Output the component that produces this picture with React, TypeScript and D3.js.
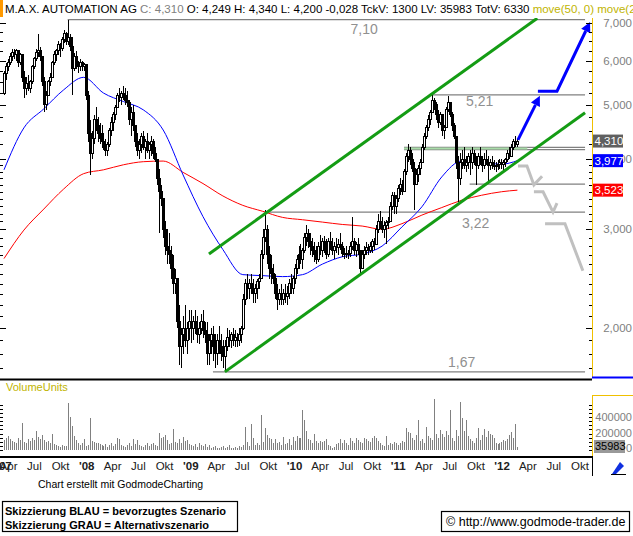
import * as d3 from 'd3'

type Bar = [number, number, number] // high, low, close (open = previous close)
type Pt = [number, number] // week index, price

const chartStart = new Date(2007, 2, 16)
const weekMs = 7 * 24 * 60 * 60 * 1000

const firstOpen = 5.25

const bars2007: Bar[] = [
  [5.75, 5.2, 5.7], [5.95, 5.55, 5.85], [6.05, 5.75, 5.95], [6.2, 5.9, 6.1], [6.3, 6.0, 6.2],
  [6.3, 6.05, 6.15], [6.3, 6.0, 6.25], [6.25, 5.85, 5.95], [6.2, 5.9, 6.15], [6.1, 5.5, 5.6],
  [5.75, 5.15, 5.35], [5.6, 5.2, 5.45], [5.65, 5.3, 5.35], [5.55, 5.25, 5.5], [5.9, 5.45, 5.85],
  [6.1, 5.8, 6.05], [6.3, 6.0, 6.2], [6.7, 6.1, 6.25], [6.35, 6.0, 6.1], [6.1, 5.4, 5.5],
  [5.6, 4.85, 5.0], [5.3, 4.9, 5.2], [5.55, 5.2, 5.5], [5.7, 5.4, 5.6], [6.0, 5.6, 5.95],
  [6.25, 5.9, 6.15], [6.3, 6.0, 6.25], [6.5, 6.15, 6.4], [6.45, 6.1, 6.3], [6.6, 6.25, 6.55],
  [6.8, 6.45, 6.7], [6.75, 6.4, 6.5], [7.1, 6.4, 6.6], [6.7, 6.25, 6.35], [6.6, 5.2, 5.8],
  [6.2, 5.75, 6.1], [6.25, 5.8, 5.9], [6.0, 5.7, 5.85], [6.05, 5.75, 5.95], [6.0, 5.75, 5.85],
  [5.95, 5.75, 5.9], [5.9, 5.1, 5.2],
]

const bars2008: Bar[] = [
  [5.3, 4.3, 4.45], [4.7, 3.75, 4.1], [4.5, 4.0, 4.35], [4.8, 4.25, 4.7], [4.95, 4.5, 4.6],
  [4.75, 4.3, 4.45], [4.65, 4.25, 4.35], [4.6, 4.25, 4.3], [4.45, 4.15, 4.2], [4.35, 4.05, 4.15],
  [4.3, 4.05, 4.25], [4.55, 4.2, 4.5], [4.75, 4.4, 4.65], [4.85, 4.5, 4.8], [5.0, 4.7, 4.95],
  [5.25, 4.95, 5.2], [5.35, 5.05, 5.15], [5.3, 5.0, 5.25], [5.4, 5.1, 5.2], [5.35, 5.0, 5.1],
  [5.3, 4.95, 5.05], [5.1, 4.6, 4.7], [4.95, 4.4, 4.85], [5.0, 4.5, 4.6], [4.6, 4.2, 4.3],
  [4.45, 4.05, 4.15], [4.35, 4.0, 4.25], [4.45, 4.1, 4.4], [4.5, 4.15, 4.2], [4.35, 4.0, 4.3],
  [4.45, 4.1, 4.15], [4.3, 4.0, 4.25], [4.4, 4.05, 4.3], [4.35, 4.0, 4.1], [4.2, 3.95, 4.0],
  [4.0, 3.6, 3.7], [3.85, 2.95, 3.5], [3.6, 3.3, 3.4], [3.4, 2.9, 3.0], [3.1, 2.7, 2.8],
  [3.0, 2.6, 2.75], [2.95, 2.6, 2.7], [2.8, 2.45, 2.55], [2.7, 2.3, 2.4], [2.55, 2.3, 2.45],
  [2.45, 2.0, 2.05], [2.2, 1.72, 1.85], [2.0, 1.7, 1.95], [2.1, 1.8, 2.0], [2.2, 1.85, 1.9],
  [2.05, 1.8, 2.0], [2.15, 1.9, 2.05],
]

const bars2009: Bar[] = [
  [2.15, 1.88, 2.0], [2.1, 1.9, 2.05], [2.15, 1.95, 2.0], [2.1, 1.88, 1.95], [2.05, 1.87, 2.0],
  [2.12, 1.95, 2.05], [2.15, 1.92, 1.98], [2.05, 1.88, 1.95], [2.05, 1.72, 1.8], [1.95, 1.72, 1.9],
  [2.0, 1.8, 1.95], [2.02, 1.75, 1.85], [1.95, 1.7, 1.8], [1.95, 1.72, 1.9], [2.02, 1.8, 1.85],
  [1.95, 1.75, 1.8], [1.9, 1.7, 1.78], [1.9, 1.67, 1.85], [2.0, 1.82, 1.92], [1.98, 1.85, 1.9],
  [1.97, 1.84, 1.95], [2.0, 1.86, 1.9], [1.98, 1.85, 1.92], [1.96, 1.85, 1.9], [2.0, 1.86, 1.95],
  [2.02, 1.88, 2.0], [2.3, 1.98, 2.25], [2.45, 2.2, 2.4], [2.5, 2.25, 2.35], [2.45, 2.25, 2.4],
  [2.5, 2.3, 2.35], [2.45, 2.22, 2.3], [2.4, 2.22, 2.35], [2.45, 2.25, 2.42], [2.5, 2.35, 2.45],
  [2.75, 2.45, 2.7], [3.0, 2.65, 2.9], [3.25, 2.85, 3.0], [3.05, 2.6, 2.7], [2.8, 2.45, 2.55],
  [2.7, 2.4, 2.5], [2.6, 2.4, 2.45], [2.5, 2.25, 2.3], [2.4, 2.15, 2.25], [2.35, 2.2, 2.3],
  [2.4, 2.2, 2.25], [2.35, 2.2, 2.3], [2.4, 2.22, 2.28], [2.38, 2.2, 2.3], [2.45, 2.25, 2.4],
  [2.5, 2.3, 2.35], [2.48, 2.3, 2.45],
]

const bars2010: Bar[] = [
  [2.6, 2.4, 2.55], [2.7, 2.5, 2.65], [2.8, 2.55, 2.7], [2.82, 2.6, 2.65], [2.78, 2.55, 2.75],
  [2.95, 2.72, 2.9], [3.05, 2.8, 2.95], [3.0, 2.78, 2.85], [2.95, 2.7, 2.8], [2.9, 2.68, 2.75],
  [2.85, 2.62, 2.7], [2.8, 2.6, 2.65], [2.85, 2.62, 2.8], [2.93, 2.7, 2.75], [2.9, 2.68, 2.85],
  [2.92, 2.72, 2.78], [2.88, 2.65, 2.7], [2.9, 2.68, 2.85], [2.97, 2.75, 2.8], [2.9, 2.7, 2.75],
  [2.85, 2.66, 2.8], [2.9, 2.72, 2.78], [2.88, 2.7, 2.82], [2.95, 2.75, 2.8], [2.85, 2.68, 2.72],
  [2.78, 2.66, 2.72], [2.8, 2.67, 2.7], [2.76, 2.65, 2.72], [2.85, 2.68, 2.8], [3.15, 2.75, 2.85],
  [2.9, 2.7, 2.75], [2.85, 2.68, 2.82], [2.9, 2.7, 2.75], [2.75, 2.48, 2.55], [2.75, 2.55, 2.7],
  [2.8, 2.65, 2.75], [2.85, 2.7, 2.78], [2.82, 2.7, 2.75], [2.85, 2.72, 2.8], [2.88, 2.72, 2.85],
  [2.9, 2.75, 2.82], [3.05, 2.82, 3.0], [3.2, 2.95, 3.1], [3.23, 3.0, 3.05], [3.15, 2.95, 3.0],
  [3.1, 2.9, 3.05], [3.12, 2.82, 3.08], [3.15, 3.0, 3.1], [3.35, 3.1, 3.3], [3.5, 3.25, 3.45],
  [3.5, 3.2, 3.3], [3.45, 3.2, 3.4],
]

const bars2011: Bar[] = [
  [3.6, 3.35, 3.55], [3.7, 3.45, 3.6], [3.68, 3.45, 3.5], [3.85, 3.6, 3.8], [4.1, 3.75, 4.05],
  [4.25, 3.95, 4.15], [4.2, 3.9, 4.0], [4.1, 3.8, 3.85], [3.95, 3.25, 3.6], [3.85, 3.6, 3.75],
  [3.9, 3.65, 3.85], [4.0, 3.75, 3.95], [4.25, 3.95, 4.2], [4.45, 4.15, 4.4], [4.6, 4.35, 4.55],
  [4.8, 4.5, 4.7], [4.9, 4.6, 4.85], [5.21, 4.85, 5.1], [5.15, 4.9, 5.0], [5.05, 4.7, 4.8],
  [4.9, 4.55, 4.65], [4.85, 4.6, 4.8], [4.8, 4.4, 4.5], [4.6, 4.35, 4.55], [4.95, 4.55, 4.9],
  [5.18, 4.85, 5.05], [5.05, 4.75, 4.8], [4.85, 4.5, 4.6], [4.65, 4.35, 4.4], [4.4, 3.85, 3.95],
  [4.05, 3.35, 3.7], [4.1, 3.6, 3.95], [4.15, 3.85, 4.0], [4.2, 3.85, 3.9], [4.05, 3.8, 3.95],
  [4.1, 3.85, 4.05], [4.15, 3.75, 3.95], [4.2, 3.85, 4.1], [4.15, 3.9, 4.0], [4.05, 3.6, 3.9],
  [4.1, 3.85, 4.05], [4.2, 3.9, 4.0], [4.05, 3.8, 3.9], [4.1, 3.85, 4.0], [4.15, 3.9, 3.95],
  [4.05, 3.62, 3.9], [4.0, 3.82, 3.95], [4.05, 3.85, 3.9], [3.98, 3.82, 3.88], [3.95, 3.8, 3.9],
  [3.98, 3.82, 3.92], [4.0, 3.85, 3.95],
]

const bars2012: Bar[] = [
  [4.0, 3.85, 3.92], [3.98, 3.82, 3.95], [4.02, 3.88, 4.0], [4.15, 3.95, 4.1], [4.2, 4.0, 4.05],
  [4.25, 4.05, 4.2], [4.35, 4.15, 4.3], [4.4, 4.2, 4.25], [4.34, 4.2, 4.31],
]

// weekly volume, thousands of shares
const volumes2007 = [
  120, 150, 170, 130, 110, 100, 90, 140, 120, 330, 100, 80, 130, 110, 150, 120, 230, 160, 130, 180,
  120, 100, 110, 90, 190, 70, 60, 50, 40, 60, 50, 45, 570, 400, 290, 170, 120, 80, 60, 90, 130, 50,
]
const volumes2008 = [
  60, 390, 110, 100, 90, 80, 70, 60, 50, 70, 40, 60, 80, 50, 70, 140, 130, 60, 50, 40, 60, 80, 50,
  130, 70, 120, 60, 50, 40, 60, 90, 50, 70, 80, 60, 50, 210, 140, 160, 180, 120, 70, 90, 260, 100,
  80, 130, 90, 160, 110, 120, 70,
]
const volumes2009 = [
  60, 50, 70, 40, 80, 60, 50, 70, 40, 60, 30, 40, 50, 30, 20, 40, 50, 30, 40, 60, 30, 20, 40, 30, 50,
  40, 60, 280, 100, 50, 320, 140, 60, 80, 60, 430, 100, 270, 180, 140, 130, 90, 130, 80, 95, 60, 160,
  70, 90, 130, 60, 160,
]
const volumes2010 = [
  110, 170, 140, 150, 480, 360, 230, 130, 120, 90, 200, 110, 80, 110, 100, 110, 130, 60, 50, 30, 40,
  70, 80, 130, 90, 120, 90, 60, 150, 110, 80, 140, 120, 100, 90, 150, 130, 110, 95, 140, 170, 150,
  110, 80, 60, 50, 170, 60, 80, 70, 100, 90,
]
const volumes2011 = [
  60, 80, 110, 100, 270, 220, 210, 150, 120, 180, 360, 110, 130, 90, 280, 170, 150, 120, 620, 200,
  150, 240, 190, 160, 230, 180, 480, 150, 110, 240, 170, 580, 390, 230, 360, 170, 130, 110, 90, 140,
  270, 120, 180, 250, 160, 230, 200, 180, 140, 90, 70, 80,
]
const volumes2012 = [100, 120, 110, 130, 180, 220, 140, 320, 35.983]

// moving averages read every 10 weeks
const maWeeks = [0, 10, 20, 30, 40, 50, 60, 70, 80, 90, 100, 110, 120, 130, 140, 150, 160, 170, 180, 190, 200, 210, 220, 230, 240, 250, 258]
const ma50 = [3.83, 4.55, 4.92, 5.32, 5.6, 5.25, 5.07, 4.9, 4.51, 3.75, 3.16, 2.76, 2.49, 2.48, 2.47, 2.49, 2.6, 2.68, 2.71, 2.8, 3.03, 3.29, 3.72, 3.97, 3.94, 3.92, 3.977]
const ma200 = [2.66, 2.99, 3.26, 3.54, 3.77, 3.83, 3.91, 3.96, 3.97, 3.79, 3.62, 3.44, 3.31, 3.23, 3.15, 3.12, 3.09, 3.06, 3.04, 3.0, 3.07, 3.18, 3.28, 3.38, 3.45, 3.5, 3.523]

const lastClose = 4.31
const lastMa50 = 3.977
const lastMa200 = 3.523
const lastVolume = 35983

// horizontal marks: value, first week
const levelValues = [7.1, 5.21, 4.2, 4.16, 3.61, 3.22, 1.67]
const levelStarts = [32, 215, 201, 201, 234, 131, 105]
const levelEnd = 292
const lightLevel: Pt[] = [[201, 4.18], [263, 4.18]]
const levelLabels = ['7,10', '5,21', '3,22', '1,67']
const levelLabelValues = [7.1, 5.21, 3.22, 1.67]
const levelLabelWeeks = [181, 239, 237, 230]

const channelUpper: Pt[] = [[103, 2.71], [268, 7.14]]
const channelLower: Pt[] = [[111, 1.67], [292, 4.84]]

const blueScenario1: Pt[] = [[258.3, 4.33], [269.3, 5.19]]
const blueScenario2: Pt[] = [[268.3, 5.29], [277.9, 5.29], [294.5, 7.03]]
const grayScenario1: Pt[] = [[258.3, 3.89], [262.8, 3.89], [266.3, 3.6], [270.4, 3.73]]
const grayScenario2: Pt[] = [[266.3, 3.5], [270.9, 3.5], [275.9, 3.22], [277.9, 3.34]]
const grayScenario3: Pt[] = [[271.9, 3.07], [281.9, 3.07], [290.9, 2.53]]

const priceMajorTicks = [2, 3, 4, 5, 6, 7]
const volumeLabelTicks = [400000, 200000]

const font = 'Liberation Sans, Arial, sans-serif'
const monthNames = ['', '', '', 'Apr', '', '', 'Jul', '', '', 'Okt', '', '']

function fmt(v: number) {
  return v.toFixed(3).replace('.', ',')
}

export default function App() {
  const width = 633
  const height = 536
  const plotLeft = 0
  const plotRight = 592
  const priceTop = 18
  const priceBottom = 378

  const bars = [...bars2007, ...bars2008, ...bars2009, ...bars2010, ...bars2011, ...bars2012]
  const volumes = [...volumes2007, ...volumes2008, ...volumes2009, ...volumes2010, ...volumes2011, ...volumes2012].map((v) => v * 1000)

  const weekDate = (week: number) => new Date(chartStart.getTime() + week * weekMs)
  const x = d3.scaleTime().domain([chartStart, weekDate(bars.length - 1)]).range([4, 517.4])
  const xAt = (week: number) => x(weekDate(week))
  const y = d3.scaleLog().domain([2, 7]).range([328, 23])
  const yVol = d3.scaleLinear().domain([0, 400000]).range([450, 417])

  let open = firstOpen
  const candles = bars.map(([high, low, close], i) => {
    const candle = { i, open, high, low, close, cx: Math.round(xAt(i)) }
    open = close
    return candle
  })

  const pathOf = d3.line<Pt>().x((p) => xAt(p[0])).y((p) => y(p[1]))
  const maLine = d3.line<Pt>().x((p) => xAt(p[0])).y((p) => y(p[1])).curve(d3.curveMonotoneX)
  const ma50Path = maLine(maWeeks.map((w, i) => [w, ma50[i]] as Pt)) ?? ''
  const ma200Path = maLine(maWeeks.map((w, i) => [w, ma200[i]] as Pt)) ?? ''

  const arrow = (pts: Pt[]) => {
    const px = pts.map((p) => [xAt(p[0]), y(p[1])])
    const [tx, ty] = px[px.length - 1]
    const [sx, sy] = px[px.length - 2]
    const len = Math.hypot(tx - sx, ty - sy)
    const ux = (tx - sx) / len
    const uy = (ty - sy) / len
    const bx = tx - ux * 10
    const by = ty - uy * 10
    const shaft = px.slice(0, -1).concat([[bx, by]])
    return {
      line: 'M' + shaft.map((p) => p.join(',')).join('L'),
      head: `M${tx},${ty}L${bx - uy * 5},${by + ux * 5}L${bx + uy * 5},${by - ux * 5}Z`,
    }
  }
  const arrow1 = arrow(blueScenario1)
  const arrow2 = arrow(blueScenario2)

  const minorPriceTicks = [...d3.range(17, 40).map((d) => d / 10), ...d3.range(16, 29).map((d) => d / 4)]
  const volumeTicks = d3.range(0, 600000, 50000)

  const monthTicks = d3.timeMonth.range(new Date(2007, 0, 1), new Date(2012, 11, 1), 3)

  const labelDy = [14, 11, 16, -5]

  return (
    <svg width={width} height={height} style={{ display: 'block', background: '#fff' }} fontFamily={font}>
      <style>{'body{margin:0}'}</style>
      <defs>
        <clipPath id="priceClip">
          <rect x={plotLeft} y={priceTop} width={plotRight - plotLeft} height={priceBottom - priceTop} />
        </clipPath>
      </defs>

      {/* header */}
      <rect x={0} y={0} width={3} height={17} fill="#ff9900" />
      <text x={5} y={13} fontSize={11.5}>
        <tspan fill="#000">M.A.X. AUTOMATION AG </tspan>
        <tspan fill="#808080">C: {fmt(lastClose)} </tspan>
        <tspan fill="#000">O: 4,249 H: 4,340 L: 4,200 -0,028 TckV: 1300 LV: {lastVolume} TotV: 6330 </tspan>
        <tspan fill="#c0b400">move(50, 0) move(200, 0)</tspan>
      </text>

      {/* price panel */}
      <g clipPath="url(#priceClip)">
        {levelValues.map((v, i) => (
          <line key={`lv${i}`} x1={xAt(levelStarts[i])} x2={xAt(levelEnd)} y1={y(v)} y2={y(v)} stroke="#808080" strokeWidth={1.2} />
        ))}
        <path d={pathOf(lightLevel) ?? ''} stroke="#a8dca8" strokeWidth={2} fill="none" />
        {levelLabels.map((t, i) => (
          <text key={t} x={xAt(levelLabelWeeks[i])} y={y(levelLabelValues[i]) + labelDy[i]} fontSize={14} fill="#909090" textAnchor="middle">
            {t}
          </text>
        ))}

        <path d={ma200Path} stroke="#ff0000" strokeWidth={1} fill="none" />
        <path d={ma50Path} stroke="#0000ff" strokeWidth={1} fill="none" />

        {candles.map((c) => {
          const up = c.close >= c.open
          const top = y(Math.max(c.open, c.close))
          const bottom = y(Math.min(c.open, c.close))
          return (
            <g key={c.i} shapeRendering="crispEdges">
              <line x1={c.cx + 0.5} x2={c.cx + 0.5} y1={y(c.high)} y2={y(c.low)} stroke="#000" strokeWidth={1} />
              {up ? (
                <rect x={c.cx - 0.5} y={top} width={2} height={Math.max(1, bottom - top)} fill="#fff" stroke="#000" strokeWidth={1} />
              ) : (
                <rect x={c.cx - 1} y={top - 0.5} width={3} height={Math.max(1, bottom - top + 1)} fill="#000" />
              )}
            </g>
          )
        })}

        <path d={pathOf(channelUpper) ?? ''} stroke="#149c14" strokeWidth={3} fill="none" />
        <path d={pathOf(channelLower) ?? ''} stroke="#149c14" strokeWidth={3} fill="none" />

        {[grayScenario1, grayScenario2, grayScenario3].map((g, i) => (
          <path key={`g${i}`} d={pathOf(g) ?? ''} stroke="#c0c0c0" strokeWidth={3} fill="none" strokeLinejoin="miter" />
        ))}
        {[arrow1, arrow2].map((a, i) => (
          <g key={`a${i}`}>
            <path d={a.line} stroke="#0000ff" strokeWidth={3} fill="none" />
            <path d={a.head} fill="#0000ff" />
          </g>
        ))}
      </g>

      {/* price axes */}
      <line x1={plotRight + 0.5} x2={plotRight + 0.5} y1={priceTop} y2={priceBottom} stroke="#f0c000" strokeWidth={1} />
      {minorPriceTicks.map((v, i) => (
        <g key={`mt${i}`} shapeRendering="crispEdges">
          <line x1={0} x2={3} y1={Math.round(y(v)) + 0.5} y2={Math.round(y(v)) + 0.5} stroke="#000" />
          <line x1={plotRight - 3} x2={plotRight} y1={Math.round(y(v)) + 0.5} y2={Math.round(y(v)) + 0.5} stroke="#000" />
        </g>
      ))}
      {priceMajorTicks.map((v) => (
        <g key={`MT${v}`} shapeRendering="crispEdges">
          <line x1={0} x2={6} y1={Math.round(y(v)) + 0.5} y2={Math.round(y(v)) + 0.5} stroke="#000" />
          <line x1={plotRight - 6} x2={plotRight} y1={Math.round(y(v)) + 0.5} y2={Math.round(y(v)) + 0.5} stroke="#000" />
          <text x={632} y={y(v)} dy="0.36em" fontSize={11.5} fill="#808080" textAnchor="end">
            {fmt(v)}
          </text>
        </g>
      ))}
      {[
        { v: lastClose, bg: '#606060' },
        { v: lastMa50, bg: '#0000ff' },
        { v: lastMa200, bg: '#ff0000' },
      ].map((b) => (
        <g key={b.bg}>
          <rect x={593} y={y(b.v) - 6.5} width={30} height={13} fill={b.bg} />
          <text x={594.5} y={y(b.v)} dy="0.36em" fontSize={11.5} fill="#fff">
            {fmt(b.v)}
          </text>
        </g>
      ))}
      <line x1={592} x2={633} y1={377.5} y2={377.5} stroke="#0000ff" strokeWidth={2} />

      {/* separators */}
      <line x1={0} x2={592} y1={379.5} y2={379.5} stroke="#000" strokeWidth={2} />
      <line x1={0} x2={592} y1={457} y2={457} stroke="#000" strokeWidth={2} />
      <line x1={592.5} x2={592.5} y1={456} y2={476} stroke="#000" strokeWidth={1} />

      {/* volume panel */}
      <text x={6} y={391} fontSize={11} fill="#c0b400">VolumeUnits</text>
      {volumes.map((v, i) => {
        const vx = Math.round(xAt(i)) + 0.5
        return <line key={`v${i}`} x1={vx} x2={vx} y1={yVol(0)} y2={yVol(v)} stroke="#808080" strokeWidth={1} shapeRendering="crispEdges" />
      })}
      <line x1={plotRight + 0.5} x2={plotRight + 0.5} y1={395} y2={456} stroke="#f0c000" />
      <line x1={592} x2={633} y1={395.5} y2={395.5} stroke="#f0c000" />
      {volumeTicks.map((v) => (
        <g key={`vt${v}`} shapeRendering="crispEdges">
          <line x1={0} x2={3} y1={Math.round(yVol(v)) + 0.5} y2={Math.round(yVol(v)) + 0.5} stroke="#000" />
          <line x1={plotRight - 3} x2={plotRight} y1={Math.round(yVol(v)) + 0.5} y2={Math.round(yVol(v)) + 0.5} stroke="#000" />
        </g>
      ))}
      {volumeLabelTicks.map((v) => (
        <text key={`vl${v}`} x={632} y={yVol(v)} dy="0.36em" fontSize={11} fill="#808080" textAnchor="end">
          {v}
        </text>
      ))}
      <text x={632} y={yVol(0)} dy="0.2em" fontSize={11} fill="#808080" textAnchor="end">0</text>
      <rect x={594} y={yVol(0) - 10} width={31} height={13} fill="#999" />
      <text x={595} y={yVol(0) - 3.5} dy="0.36em" fontSize={11} fill="#000">{lastVolume}</text>

      {/* time axis */}
      {monthTicks.map((d) => {
        const m = d.getMonth()
        const yearLabel = m === 0
        const label = yearLabel ? `'${String(d.getFullYear()).slice(2)}` : monthNames[m]
        const tx = Math.max(x(d), 4)
        return (
          <text key={d.toISOString()} x={tx} y={470} fontSize={11.5} textAnchor="middle" fill="#202020" fontWeight={yearLabel ? 'bold' : 'normal'}>
            {label}
          </text>
        )
      })}
      <path d="M612,474 L620,462 L624,466 L616,474 Z" fill="#1030e0" />
      <line x1={611} x2={626} y1={474.5} y2={474.5} stroke="#000" />

      {/* footer */}
      <text x={38} y={488} fontSize={10.5} fill="#000">Chart erstellt mit GodmodeCharting</text>
      <rect x={2.5} y={501.5} width={235} height={30} fill="#fff" stroke="#000" strokeWidth={1.2} />
      <text x={5} y={515} fontSize={11} fontWeight="bold" fill="#000">Skizzierung BLAU = bevorzugtes Szenario</text>
      <text x={5} y={528.5} fontSize={11} fontWeight="bold" fill="#000">Skizzierung GRAU = Alternativszenario</text>
      <rect x={441.5} y={511.5} width={188} height={20} fill="#fff" stroke="#000" strokeWidth={1.2} />
      <text x={446} y={526} fontSize={12.5} fill="#000">© http://www.godmode-trader.de</text>
    </svg>
  )
}
